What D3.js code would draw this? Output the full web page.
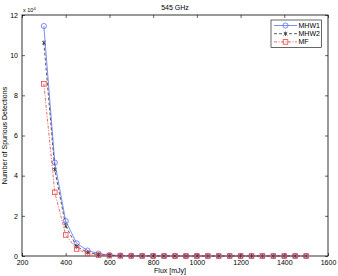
<!DOCTYPE html>
<html><head><meta charset="utf-8">
<script src="https://cdn.jsdelivr.net/npm/d3@7"></script>
<style>body{margin:0;background:#fff}svg{display:block}text{font-family:"Liberation Sans",Arial,sans-serif}</style>
</head><body><svg id="c" width="338" height="276"></svg>
<script>
const flux = [300,350,400,450,500,550,600,650,700,750,800,850,900,950,1000,1050,1100,1150,1200,1250,1300,1350,1400,1450,1500];
const mhw1 = [11.45,4.65,1.74,0.63,0.27,0.12,0.05,0.025,0.012,0.006,0.003,0.002,0.001,0.001,0,0,0,0,0,0,0,0,0,0,0];
const mhw2 = [10.62,4.3,1.5,0.47,0.18,0.07,0.03,0.014,0.007,0.004,0.002,0.001,0.001,0,0,0,0,0,0,0,0,0,0,0,0];
const mf   = [8.57,3.17,1.05,0.35,0.12,0.04,0.015,0.007,0.003,0.002,0.001,0,0,0,0,0,0,0,0,0,0,0,0,0,0];
const xTicks = [200,400,600,800,1000,1200,1400,1600];
const yTicks = [0,2,4,6,8,10,12];
const seriesNames = ["MHW1","MHW2","MF"];

const svg = d3.select("#c");
const L=22,R=328,T=15,B=256;
const x = d3.scaleLinear().domain([200,1600]).range([L,R]);
const y = d3.scaleLinear().domain([0,12]).range([B,T]);
const fs = 7;

svg.append("rect").attr("x",L).attr("y",T).attr("width",R-L).attr("height",B-T).attr("fill","#fff").attr("stroke","#000").attr("stroke-width",0.8);

const gx = svg.append("g").attr("transform",`translate(0,${B})`).call(d3.axisBottom(x).tickValues(xTicks).tickSize(-3).tickPadding(4).tickFormat(d3.format("d")));
const gxt = svg.append("g").attr("transform",`translate(0,${T})`).call(d3.axisTop(x).tickValues(xTicks).tickSize(-3).tickFormat(""));
const gy = svg.append("g").attr("transform",`translate(${L},0)`).call(d3.axisLeft(y).tickValues(yTicks).tickSize(-3).tickPadding(4).tickFormat(d3.format("d")));
const gyr = svg.append("g").attr("transform",`translate(${R},0)`).call(d3.axisRight(y).tickValues(yTicks).tickSize(-3).tickFormat(""));
[gx,gxt,gy,gyr].forEach(g=>{g.select(".domain").remove();g.selectAll("line").attr("stroke","#000").attr("stroke-width",0.6);g.selectAll("text").attr("font-size",fs).attr("fill","#000").attr("font-family","Liberation Sans, Arial, sans-serif");});

const line = d3.line().x((d,i)=>x(flux[i])).y(d=>y(d));
const cfg = [
 {name:"MHW1",data:mhw1,color:"#5a6ef5",dash:null,marker:"circle"},
 {name:"MHW2",data:mhw2,color:"#333",dash:"3,2",marker:"star"},
 {name:"MF",data:mf,color:"#ee4444",dash:"3,1.5,1,1.5",marker:"square"}
];
function drawMarker(g,type,cx,cy,color){
  if(type==="circle") g.append("circle").attr("cx",cx).attr("cy",cy).attr("r",2.6).attr("fill","none").attr("stroke",color).attr("stroke-width",0.8);
  else if(type==="square") g.append("rect").attr("x",cx-2.3).attr("y",cy-2.3).attr("width",4.6).attr("height",4.6).attr("fill","none").attr("stroke",color).attr("stroke-width",0.8);
  else { const s=1.8; g.append("path").attr("d",`M${cx-s},${cy-s}L${cx+s},${cy+s}M${cx-s},${cy+s}L${cx+s},${cy-s}M${cx},${cy-s*1.2}L${cx},${cy+s*1.2}`).attr("stroke",color).attr("stroke-width",0.8); }
}
cfg.forEach(c=>{
  svg.append("path").attr("d",line(c.data)).attr("fill","none").attr("stroke",c.color).attr("stroke-width",0.8).attr("stroke-dasharray",c.dash);
  const g=svg.append("g");
  c.data.forEach((v,i)=>drawMarker(g,c.marker,x(flux[i]),y(v),c.color));
});

const lg = svg.append("g");
lg.append("rect").attr("x",271).attr("y",20).attr("width",50.5).attr("height",27.5).attr("fill","#fff").attr("stroke","#000").attr("stroke-width",0.6);
cfg.forEach((c,i)=>{
  const ly=25.5+i*8.2;
  lg.append("line").attr("x1",274).attr("x2",297).attr("y1",ly).attr("y2",ly).attr("stroke",c.color).attr("stroke-width",0.8).attr("stroke-dasharray",c.dash);
  drawMarker(lg,c.marker,285.5,ly,c.color);
  lg.append("text").attr("x",298.5).attr("y",ly+2.5).attr("font-size",fs).text(seriesNames[i]);
});

svg.append("text").attr("x",175).attr("y",10).attr("text-anchor","middle").attr("font-size",fs).text("545 GHz");
svg.append("text").attr("x",170).attr("y",273).attr("text-anchor","middle").attr("font-size",fs).text("Flux [mJy]");
svg.append("text").attr("transform",`translate(7,${(T+B)/2}) rotate(-90)`).attr("text-anchor","middle").attr("font-size",fs).text("Number of Spurious Detections");
const ex = svg.append("text").attr("x",23).attr("y",12).attr("font-size",5.5);
ex.append("tspan").text("x 10");
ex.append("tspan").attr("dy",-2.5).attr("font-size",4).text("4");
</script></body></html>
